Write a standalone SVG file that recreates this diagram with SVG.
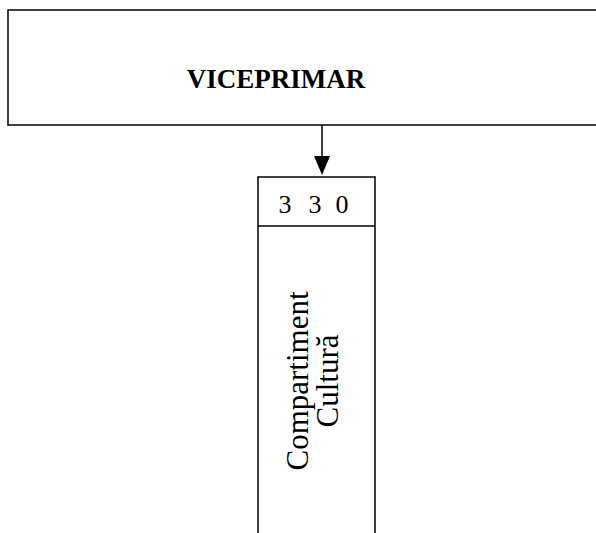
<svg xmlns="http://www.w3.org/2000/svg" width="596" height="533" viewBox="0 0 596 533">
<style>
.box{fill:#fff;stroke:#000;stroke-width:1.5}
.t{font-family:"Liberation Serif","Times New Roman",serif;fill:#000}
</style>
<rect width="596" height="533" fill="#fff"/>
<g id="viceprimar">
<rect class="box" x="8" y="10" width="600" height="115"/>
<text class="t" x="276" y="88" font-size="27" font-weight="bold" text-anchor="middle">VICEPRIMAR</text>
</g>
<g id="connectors">
<line x1="322" y1="125" x2="322" y2="158" stroke="#000" stroke-width="1.5"/>
<polygon points="314,156 330,156 322,175" fill="#000"/>
</g>
<g id="compartiment">
<rect class="box" x="258" y="177" width="117" height="370"/>
<line x1="258" y1="226" x2="375" y2="226" stroke="#000" stroke-width="1.5"/>
<text class="t" y="213" font-size="26" text-anchor="middle"><tspan x="285">3</tspan><tspan x="315">3</tspan><tspan x="342">0</tspan></text>
<text class="t" font-size="31" text-anchor="middle" transform="translate(308,381) rotate(-90)">Compartiment</text>
<text class="t" font-size="31" text-anchor="middle" transform="translate(338,381) rotate(-90)">Cultură</text>
</g>
</svg>
